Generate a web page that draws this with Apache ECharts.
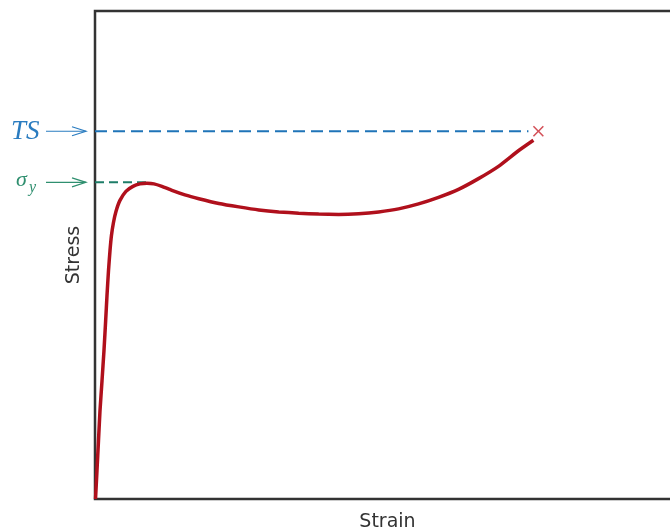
<!DOCTYPE html>
<html><head><meta charset="utf-8">
<script src="https://cdn.jsdelivr.net/npm/echarts@6/dist/echarts.min.js"></script>
<style>html,body{margin:0;padding:0;background:#fff}#c{width:670px;height:530px}</style>
</head><body><div id="c"></div>
<script>
// Stress-strain curve (arbitrary units)
var strain = [0.09, 0.34, 0.60, 0.86, 1.21, 1.55, 1.84, 2.07, 2.33, 2.59, 2.84, 3.19, 3.62, 4.31, 5.34, 6.55, 7.76, 8.97, 10.17, 11.55, 13.28, 15.52, 17.93, 21.38, 24.83, 28.28, 31.72, 35.17, 38.62, 42.07, 45.52, 48.97, 52.41, 55.86, 59.31, 62.76, 66.21, 69.66, 73.10, 75.69];
var stress = [0, 5.75, 11.91, 18.07, 24.23, 30.39, 36.55, 41.68, 46.82, 50.92, 54.00, 56.67, 58.93, 61.19, 63.04, 64.07, 64.58, 64.68, 64.58, 64.07, 63.24, 62.32, 61.54, 60.57, 59.86, 59.24, 58.83, 58.58, 58.38, 58.32, 58.46, 58.83, 59.45, 60.47, 61.81, 63.45, 65.65, 68.17, 71.36, 73.51];
var tsValue = 75.36;      // tensile strength level
var yieldValue = 64.89;   // yield strength level
var tsLineEnd = 74.83;
var yieldLineEnd = 8.97;
var fracture = [76.55, 75.36];

var curve = strain.map(function (x, i) { return [x, stress[i]]; });
var chart = echarts.init(document.getElementById('c'));
var sans = 'DejaVu Sans';
chart.setOption({
  animation: false,
  grid: { left: 95, top: 11, right: -10, bottom: 31, show: true, borderColor: '#333', borderWidth: 2.5, backgroundColor: 'transparent', containLabel: false, outerBoundsMode: 'none' },
  xAxis: { type: 'value', min: 0, max: 101, name: 'Strain', nameLocation: 'middle', nameGap: 14,
    nameTextStyle: { fontFamily: sans, fontSize: 19, color: '#333' },
    axisLine: { show: false }, axisTick: { show: false }, axisLabel: { show: false }, splitLine: { show: false } },
  yAxis: { type: 'value', min: 0, max: 100, name: 'Stress', nameLocation: 'middle', nameGap: 11,
    nameTextStyle: { fontFamily: sans, fontSize: 19, color: '#333' },
    axisLine: { show: false }, axisTick: { show: false }, axisLabel: { show: false }, splitLine: { show: false } },
  series: [
    { type: 'line', data: [[0, tsValue], [tsLineEnd, tsValue]], symbol: 'none', z: 1,
      lineStyle: { color: '#1f74b8', width: 2, type: [12, 6] } },
    { type: 'line', data: [[0, yieldValue], [yieldLineEnd, yieldValue]], symbol: 'none', z: 1,
      lineStyle: { color: '#1e7d68', width: 2, type: [9, 5] } },
    { type: 'line', data: curve, symbol: 'none', smooth: 0.15, z: 3,
      lineStyle: { color: '#b0101c', width: 3.5 } },
    { type: 'scatter', data: [fracture], z: 4,
      symbol: 'path://M0,1 L1,0 L5,4 L9,0 L10,1 L6,5 L10,9 L9,10 L5,6 L1,10 L0,9 L4,5 Z',
      symbolSize: 11, itemStyle: { color: '#c8242e' } }
  ]
});
var yTS = chart.convertToPixel({ gridIndex: 0 }, [0, tsValue])[1];
var yY = chart.convertToPixel({ gridIndex: 0 }, [0, yieldValue])[1];
function arrow(y, color, x0, x1) {
  return [
    { type: 'line', shape: { x1: x0, y1: y, x2: x1, y2: y }, style: { stroke: color, lineWidth: 1.2 } },
    { type: 'polyline', shape: { points: [[x1 - 14, y - 4.5], [x1, y], [x1 - 14, y + 4.5]] }, style: { stroke: color, lineWidth: 1.2, fill: null } }
  ];
}
var g = [];
g = g.concat(arrow(yTS, '#2a7cc0', 46, 86));
g = g.concat(arrow(yY, '#2f8f6f', 46, 86));
g.push({ type: 'text', x: 11, y: yTS + 1, style: { text: 'TS', fontFamily: 'Liberation Serif', fontStyle: 'italic', fontSize: 27, fill: '#2a7cc0', verticalAlign: 'middle' } });
g.push({ type: 'text', x: 16, y: yY - 2, style: { text: 'σ', fontFamily: 'Liberation Serif', fontStyle: 'italic', fontSize: 22, fill: '#2f8f6f', verticalAlign: 'middle' } });
g.push({ type: 'text', x: 29, y: yY + 5, style: { text: 'y', fontFamily: 'Liberation Serif', fontStyle: 'italic', fontSize: 16, fill: '#2f8f6f', verticalAlign: 'middle' } });
chart.setOption({ graphic: g });
</script></body></html>
